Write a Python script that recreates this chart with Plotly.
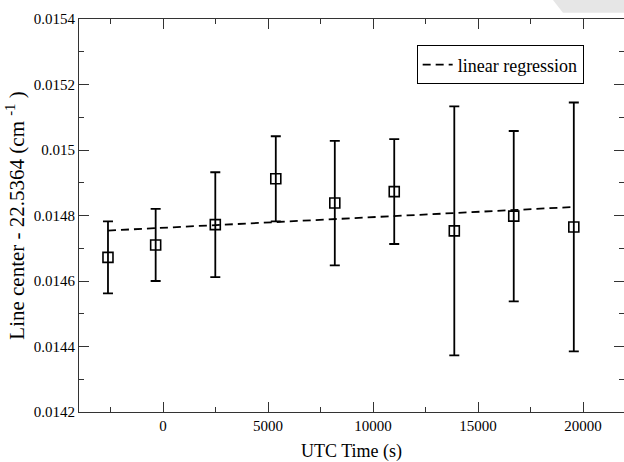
import plotly.graph_objects as go

# 測定点 (UTC時刻 [s], 線中心 - 22.5364 [cm^-1], 誤差)
utc_time = [-2620, -350, 2490, 5370, 8180, 11010, 13870, 16700, 19560]
line_center = [0.014672, 0.014710, 0.014772, 0.014912, 0.014838,
               0.014873, 0.014753, 0.014798, 0.014765]
line_err = [0.00011, 0.00011, 0.00016, 0.00013, 0.00019,
            0.00016, 0.00038, 0.00026, 0.00038]

# 線形回帰の端点
reg_x = [-2620, 19560]
reg_y = [0.014754, 0.014826]

x_tickvals = [0, 5000, 10000, 15000, 20000]
x_ticktext = ["0", "5000", "10000", "15000", "20000"]
y_tickvals = [0.0142, 0.0144, 0.0146, 0.0148, 0.0150, 0.0152, 0.0154]
y_ticktext = ["0.0142", "0.0144", "0.0146", "0.0148", "0.015", "0.0152", "0.0154"]

font_family = "Liberation Serif, Times New Roman, serif"
axis_col = "#333333"

fig = go.Figure()

fig.add_trace(go.Scatter(
    x=utc_time, y=line_center,
    mode="markers",
    marker=dict(symbol="square-open", size=10, color="black", line=dict(width=1.6)),
    error_y=dict(type="data", array=line_err, visible=True,
                 color="black", thickness=1.8, width=5),
    showlegend=False,
))

fig.add_trace(go.Scatter(
    x=reg_x, y=reg_y,
    mode="lines",
    line=dict(color="black", width=1.8, dash="8px,5px"),
    name="linear regression",
))

# 右側の目盛り (軸線なし)
fig.add_trace(go.Scatter(x=[reg_x[0]], y=[reg_y[0]], yaxis="y2", mode="markers",
                         marker=dict(opacity=0), showlegend=False, hoverinfo="skip"))

fig.update_layout(
    width=624, height=462,
    plot_bgcolor="white",
    paper_bgcolor="white",
    font=dict(family=font_family, size=15, color="black"),
    # 右端の枠線は画面外
    margin=dict(l=79, r=0, t=19, b=50, autoexpand=False),
    xaxis=dict(
        range=[-4000, 21950], automargin=False,
        tickvals=x_tickvals, ticktext=x_ticktext,
        ticks="inside", ticklen=10, tickwidth=1, tickcolor=axis_col,
        minor=dict(ticks="inside", ticklen=5, dtick=2500, tick0=0, tickcolor=axis_col),
        showline=True, linecolor=axis_col, linewidth=1, mirror="ticks",
        showgrid=False, zeroline=False,
        title=dict(text="UTC Time (s)", font=dict(size=18), standoff=14),
    ),
    yaxis=dict(
        range=[0.0142, 0.0154], automargin=False,
        tickvals=y_tickvals, ticktext=y_ticktext,
        ticks="inside", ticklen=10, tickwidth=1, tickcolor=axis_col,
        minor=dict(ticks="inside", ticklen=5, dtick=0.0001, tick0=0.0142, tickcolor=axis_col),
        showline=True, linecolor=axis_col, linewidth=1, mirror="ticks",
        showgrid=False, zeroline=False,
        title=dict(text="Line center - 22.5364 (cm <sup>-1</sup> )", font=dict(size=21), standoff=3),
    ),
    yaxis2=dict(
        overlaying="y", side="right", range=[0.0142, 0.0154], automargin=False,
        tickvals=y_tickvals, ticktext=[""] * len(y_tickvals), showticklabels=False,
        ticks="inside", ticklen=10, tickcolor=axis_col,
        minor=dict(ticks="inside", ticklen=5, dtick=0.0001, tick0=0.0142, tickcolor=axis_col),
        showline=False, showgrid=False, zeroline=False,
    ),
    legend=dict(
        x=0.926, y=0.933, xanchor="right", yanchor="top",
        bgcolor="white", bordercolor="black", borderwidth=1,
        font=dict(size=18),
    ),
    # 右上の灰色の影 (元画像の写り込み)
    shapes=[dict(
        type="path", xref="paper", yref="paper",
        path="M 0.8697 1.0483 L 1.0 1.0483 L 1.0 1.016 L 0.888 1.016 Z",
        fillcolor="#e6e6e6", line=dict(width=0),
    )],
)

# ページの既定余白 (8px) を消す
fig.write_html("out.html", config={"displayModeBar": False},
               post_script="document.body.style.margin='0';")
